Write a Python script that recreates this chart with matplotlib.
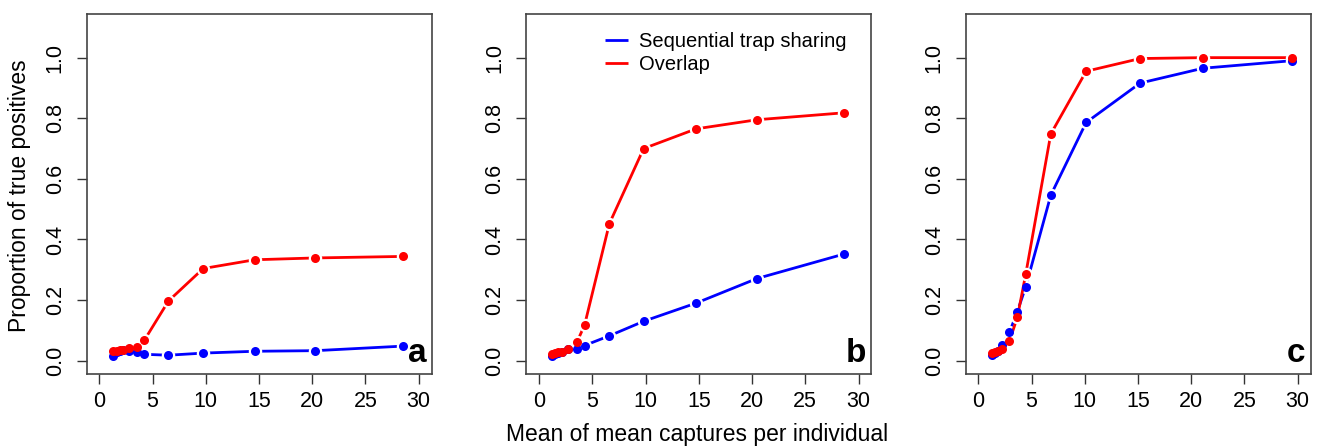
import matplotlib
matplotlib.use("Agg")
from matplotlib import pyplot as plt

plt.rcParams["font.family"] = ["Liberation Sans", "DejaVu Sans"]

# panel a
x_a = [1.3, 1.64, 1.95, 2.2, 2.79, 3.5, 4.24, 6.5, 9.76, 14.6, 20.3, 28.5]
seq_a = [0.015, 0.029, 0.033, 0.034, 0.031, 0.028, 0.021, 0.018, 0.025, 0.031, 0.033, 0.048]
ovl_a = [0.031, 0.033, 0.034, 0.036, 0.042, 0.044, 0.068, 0.197, 0.304, 0.333, 0.339, 0.344]

# panel b
x_b = [1.19, 1.5, 1.82, 2.13, 2.76, 3.55, 4.27, 6.6, 9.82, 14.75, 20.46, 28.65]
seq_b = [0.017, 0.022, 0.026, 0.029, 0.04, 0.04, 0.05, 0.082, 0.13, 0.19, 0.271, 0.352]
ovl_b = [0.022, 0.025, 0.029, 0.029, 0.039, 0.061, 0.117, 0.452, 0.70, 0.765, 0.795, 0.818]

# panel c
x_c = [1.26, 1.57, 1.88, 2.2, 2.92, 3.67, 4.46, 6.81, 10.13, 15.2, 21.1, 29.5]
seq_c = [0.02, 0.026, 0.033, 0.052, 0.093, 0.162, 0.244, 0.546, 0.786, 0.916, 0.965, 0.99]
ovl_c = [0.024, 0.027, 0.033, 0.039, 0.064, 0.143, 0.286, 0.748, 0.955, 0.997, 1.0, 1.0]

panels = [("a", x_a, seq_a, ovl_a), ("b", x_b, seq_b, ovl_b), ("c", x_c, seq_c, ovl_c)]
lefts_px = [86.5, 526.3, 965.5]

W, H = 1320, 446
fig = plt.figure(figsize=(W / 100, H / 100), dpi=100)

for (tag, x, seq, ovl), lpx in zip(panels, lefts_px):
    ax = fig.add_axes([lpx / W, (H - 374) / H, 345 / W, 360 / H])
    # R type="b": white halo around points makes the gaps in the line
    style = dict(lw=2.0, marker="o", ms=7.5, mew=2.2, mec="white", solid_capstyle="butt")
    ax.plot(x, seq, color="blue", label="Sequential trap sharing", **style)
    ax.plot(x, ovl, color="red", label="Overlap", **style)
    # points redrawn without halo so clustered ones stay filled
    ax.plot(x, seq, ls="none", marker="o", ms=6.5, mew=0, color="blue")
    ax.plot(x, ovl, ls="none", marker="o", ms=6.5, mew=0, color="red")
    ax.set_xlim(-1.2, 31.2)
    ax.set_ylim(-0.044, 1.144)
    ax.set_xticks(range(0, 31, 5))
    ax.set_yticks([0, 0.2, 0.4, 0.6, 0.8, 1.0])
    ax.set_yticklabels(["0.0", "0.2", "0.4", "0.6", "0.8", "1.0"], rotation=90, va="center")
    ax.tick_params(labelsize=15.5, length=7, width=1, color="#333333", pad=5)
    ax.tick_params(axis="y", pad=8)
    for s in ax.spines.values():
        s.set_color("#444444")
        s.set_linewidth(1.2)
    ax.text(0.985, 0.015, tag, transform=ax.transAxes, ha="right", va="bottom",
            fontsize=24, fontweight="bold")
    if tag == "b":
        leg = ax.legend(loc="upper left", bbox_to_anchor=(0.175, 1.0), frameon=False,
                        fontsize=14.5, handlelength=1.15, handletextpad=0.55,
                        labelspacing=0.2)
        for h in leg.legend_handles:
            h.set_marker("")

fig.text(20 / W, 1 - 196 / H, "Proportion of true positives", rotation=90,
         ha="center", va="center", fontsize=16.5)
fig.text(697 / W, 1 - 435 / H, "Mean of mean captures per individual", ha="center",
         va="center", fontsize=16.5)

fig.savefig("out.png", dpi=100)
